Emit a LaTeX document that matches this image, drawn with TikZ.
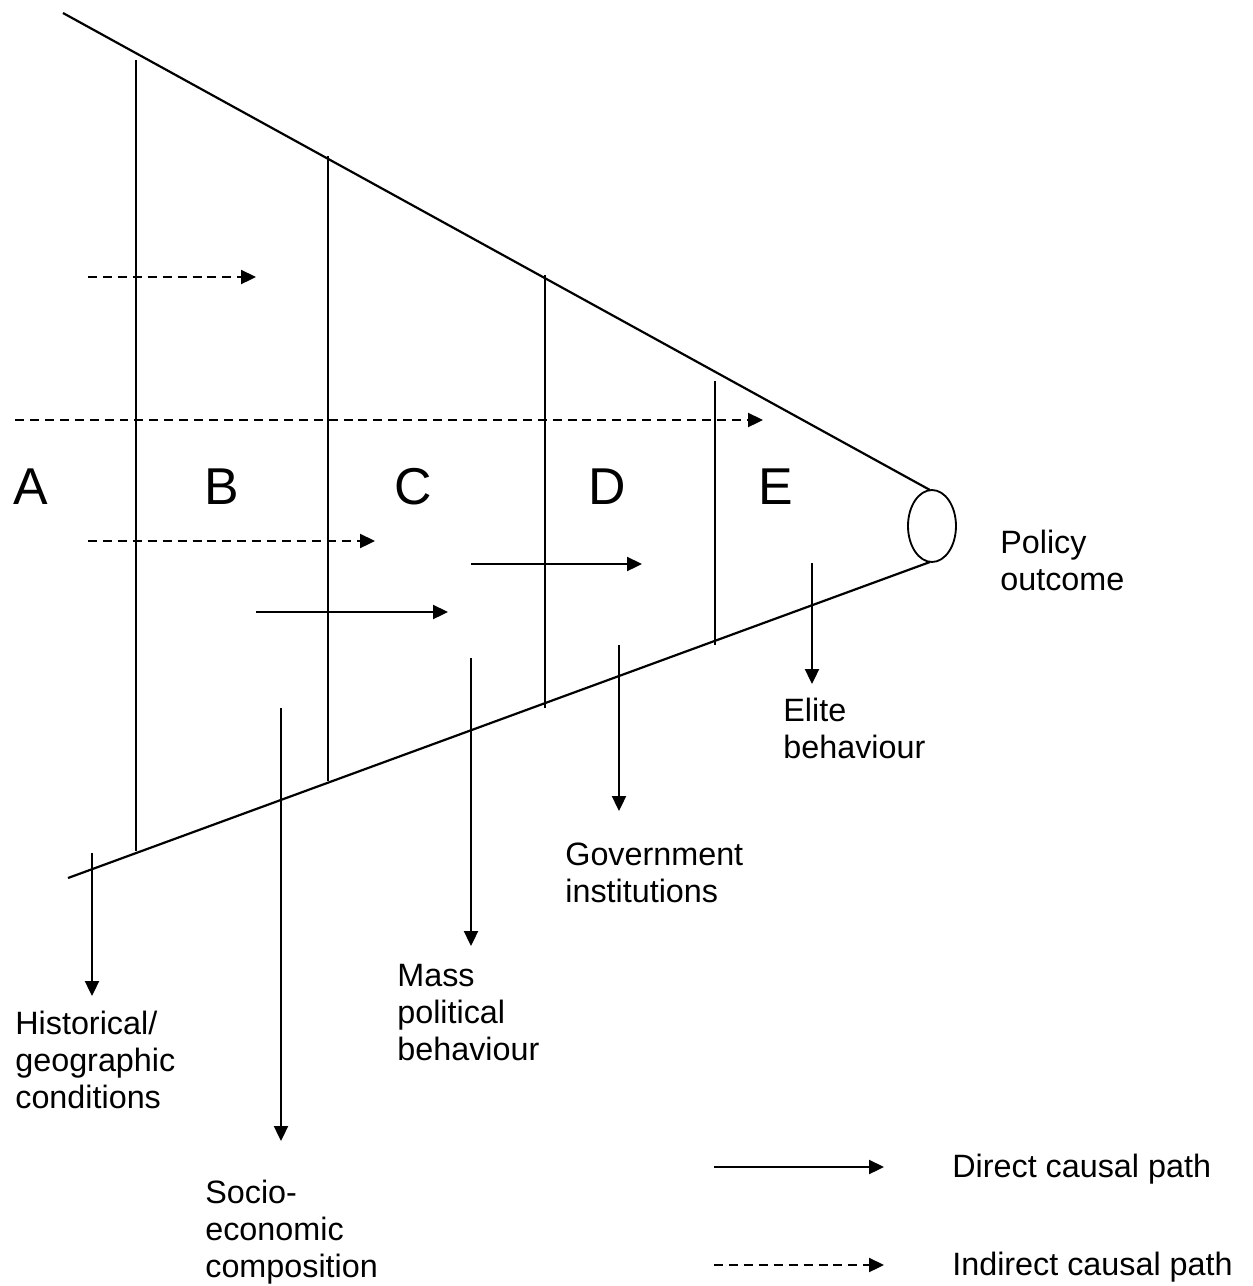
\documentclass[tikz,border=0pt]{standalone}
\usepackage{fontspec}
\setmainfont{Liberation Sans}
\usetikzlibrary{arrows.meta,shapes.geometric}
\begin{document}
\begin{tikzpicture}[x=0.02cm,y=-0.02cm,
  cone/.style={line width=1.25pt},
  divider/.style={line width=1.25pt},
  causal/.style={line width=1.05pt,-{Triangle[length=8.5pt,width=8pt]}},
  indirect/.style={causal,dash pattern=on 5.1pt off 3.4pt},
  drop/.style={line width=1.05pt,-{Triangle[length=8.5pt,width=8pt]}},
  stage/.style={anchor=base,font=\fontsize{29.5}{34}\selectfont,inner sep=0pt},
  lbl/.style={anchor=base west,font=\fontsize{18.4}{20.8}\selectfont,inner sep=0pt,align=left}]
\useasboundingbox (0,0) rectangle (1253,1286);

% funnel of causation
\node[draw,line width=1.05pt,ellipse,minimum width=0.96cm,minimum height=1.44cm,inner sep=0pt] (out) at (932,526) {};
\coordinate (topL) at (63,13);
\coordinate (botL) at (68,878);
\draw[cone] (topL) -- (930,490);
\draw[cone] (botL) -- (930,562);

% stage boundaries
\coordinate (d1t) at (136,60);  \coordinate (d1b) at (136,851);
\coordinate (d2t) at (328,156); \coordinate (d2b) at (328,781);
\coordinate (d3t) at (545,275); \coordinate (d3b) at (545,708);
\coordinate (d4t) at (715,381); \coordinate (d4b) at (715,645);
\foreach \i in {1,...,4} \draw[divider] (d\i t) -- (d\i b);

% stage letters
\node[stage] (sA) at (31,504) {A};
\node[stage] (sB) at (222,504) {B};
\node[stage] (sC) at (413,504) {C};
\node[stage] (sD) at (607,504) {D};
\node[stage] (sE) at (776,504) {E};

% causal paths inside the funnel
\coordinate (i1s) at (88,277);  \coordinate (i1e) at (256,277);
\coordinate (i2s) at (15,420);  \coordinate (i2e) at (763,420);
\coordinate (i3s) at (88,541);  \coordinate (i3e) at (375,541);
\coordinate (c1s) at (256,612); \coordinate (c1e) at (448,612);
\coordinate (c2s) at (471,564); \coordinate (c2e) at (642,564);
\draw[indirect] (i1s) -- (i1e);
\draw[indirect] (i2s) -- (i2e);
\draw[indirect] (i3s) -- (i3e);
\draw[causal] (c1s) -- (c1e);
\draw[causal] (c2s) -- (c2e);

% outcome and stage labels (positioned by the baseline of their last line)
\node[lbl] (policy) at (1000,590) {Policy\\outcome};
\node[lbl] (elite) at (783,758) {Elite\\behaviour};
\node[lbl] (gov) at (565,902) {Government\\institutions};
\node[lbl] (mass) at (397,1060) {Mass\\political\\behaviour};
\node[lbl] (hist) at (15,1108) {Historical/\\geographic\\conditions};
\node[lbl] (socio) at (205,1277) {Socio-\\economic\\composition};

% arrows down to the labels
\coordinate (a1s) at (92,853);  \coordinate (a1e) at (92,996);
\coordinate (a2s) at (281,708); \coordinate (a2e) at (281,1141);
\coordinate (a3s) at (471,658); \coordinate (a3e) at (471,946);
\coordinate (a4s) at (619,645); \coordinate (a4e) at (619,811);
\coordinate (a5s) at (812,563); \coordinate (a5e) at (812,684);
\foreach \i in {1,...,5} \draw[drop] (a\i s) -- (a\i e);

% legend
\coordinate (l1s) at (714,1167); \coordinate (l1e) at (884,1167);
\coordinate (l2s) at (714,1265); \coordinate (l2e) at (884,1265);
\draw[causal] (l1s) -- (l1e);
\draw[indirect] (l2s) -- (l2e);
\node[lbl] (direct) at (952,1177) {Direct causal path};
\node[lbl] (indir) at (952,1275) {Indirect causal path};
\end{tikzpicture}
\end{document}
